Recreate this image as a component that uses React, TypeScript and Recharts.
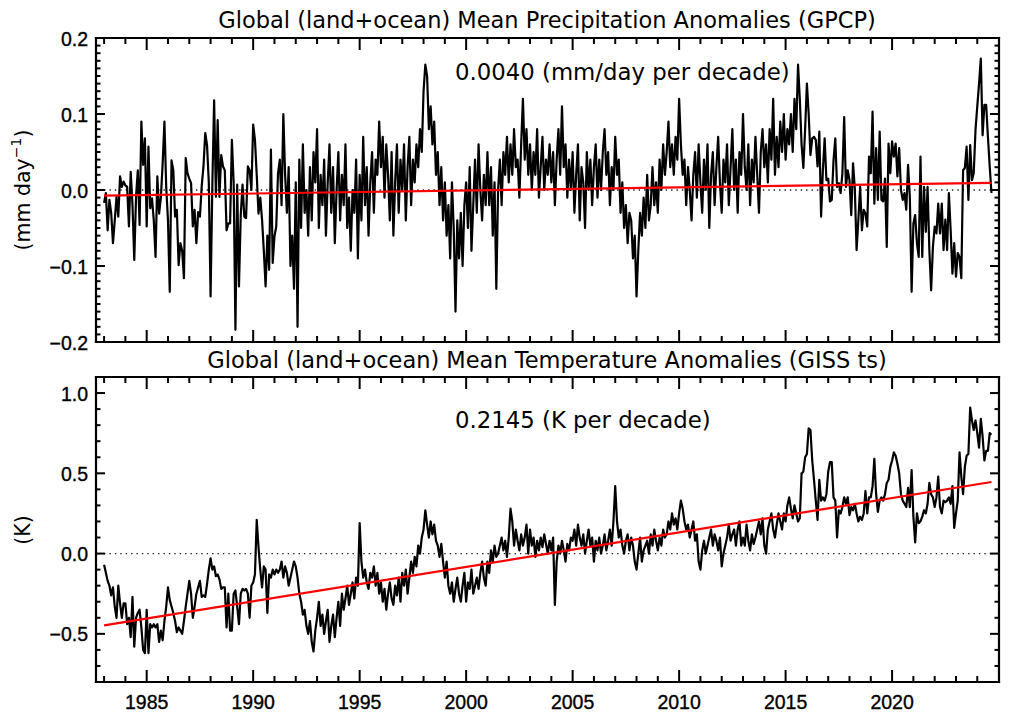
import React from 'react';
import { LineChart, Line, XAxis, YAxis } from 'recharts';

// ---------------- DATA ----------------
const START_YEAR = 1983; // first month: Jan 1983, monthly values

// Global mean precipitation anomalies (mm/day), GPCP, monthly
const precip: number[] = [
  -0.017, -0.004, -0.053, -0.013, -0.030, -0.070, -0.040, -0.009, -0.035, 0.018, 0.004, 0.011,
  0.006, 0.004, -0.048, 0.024, -0.020, -0.092, -0.009, 0.026, -0.046, 0.090, 0.033, 0.068,
  -0.048, 0.057, -0.024, -0.011, -0.040, -0.088, 0.018, -0.031, -0.010, 0.035, 0.090, 0.004,
  -0.040, -0.134, 0.039, 0.026, -0.035, -0.026, -0.099, -0.070, -0.080, -0.116, 0.042, 0.022,
  0.015, 0.009, -0.048, -0.026, -0.070, -0.029, -0.035, 0.005, 0.031, 0.075, 0.059, 0.010,
  -0.140, 0.007, 0.118, -0.009, 0.092, -0.009, 0.046, 0.031, 0.026, -0.053, -0.044, -0.044,
  0.066, 0.010, -0.184, 0.007, -0.127, -0.033, 0.007, -0.035, -0.037, 0.031, 0.026, 0.000,
  0.086, 0.066, 0.020, -0.031, -0.010, -0.039, -0.080, -0.127, -0.060, -0.105, 0.053, -0.096,
  -0.061, -0.048, 0.022, 0.040, -0.020, 0.100, 0.020, -0.030, 0.030, -0.100, -0.060, -0.130,
  0.010, -0.180, 0.040, -0.050, 0.060, -0.030, 0.000, -0.060, 0.030, -0.040, 0.050, 0.010,
  0.080, -0.050, 0.020, -0.020, 0.040, -0.060, 0.010, 0.060, -0.030, 0.030, -0.070, 0.000,
  0.050, -0.040, 0.020, -0.020, 0.060, -0.050, -0.010, -0.080, 0.000, -0.030, 0.040, -0.090,
  0.020, -0.040, 0.070, -0.020, 0.030, -0.060, 0.010, 0.050, -0.030, 0.040, 0.020, 0.090,
  0.030, 0.070, -0.010, 0.060, 0.020, -0.040, 0.050, -0.060, 0.010, 0.060, -0.030, 0.040,
  0.000, 0.060, -0.040, 0.030, 0.070, -0.020, 0.040, 0.010, 0.060, 0.030, 0.080, 0.050,
  0.130, 0.165, 0.150, 0.080, 0.110, 0.060, 0.090, 0.020, 0.050, -0.020, 0.030, -0.040,
  0.010, -0.060, -0.020, -0.090, 0.010, -0.050, -0.160, -0.040, -0.090, -0.030, -0.100, -0.020,
  0.010, -0.050, 0.030, -0.080, -0.020, 0.040, -0.030, 0.060, 0.000, -0.040, 0.020, -0.020,
  0.050, -0.020, 0.030, -0.060, 0.010, -0.130, 0.000, 0.040, -0.020, 0.050, 0.020, 0.070,
  0.010, 0.060, 0.020, 0.080, 0.030, 0.040, -0.010, 0.060, 0.120, 0.040, 0.080, 0.020,
  0.060, 0.000, 0.050, 0.020, 0.080, -0.010, 0.030, 0.070, 0.000, 0.040, 0.020, 0.060,
  0.010, 0.050, -0.020, 0.040, 0.080, 0.020, 0.110, 0.030, 0.060, -0.010, 0.040, 0.000,
  0.050, -0.030, 0.020, 0.060, -0.040, 0.030, 0.010, -0.050, 0.050, 0.000, 0.040, -0.020,
  0.030, 0.060, -0.010, 0.040, 0.000, 0.050, 0.080, 0.020, 0.050, -0.020, 0.030, 0.000,
  0.070, 0.020, 0.040, -0.030, 0.010, -0.050, -0.020, -0.070, -0.030, -0.040, -0.090, -0.060,
  -0.140, -0.080, -0.030, -0.060, -0.010, -0.050, 0.020, -0.040, -0.020, 0.030, -0.020, 0.010,
  -0.030, 0.040, 0.000, 0.060, 0.020, 0.050, 0.090, 0.030, 0.060, 0.020, 0.070, 0.040,
  0.120, 0.060, 0.020, 0.040, -0.020, 0.030, 0.000, -0.040, 0.020, 0.050, -0.010, 0.060,
  0.010, -0.030, 0.040, 0.000, 0.060, -0.050, 0.020, 0.050, -0.020, 0.030, 0.070, 0.010,
  -0.030, 0.040, 0.010, 0.060, -0.020, 0.030, 0.080, 0.000, 0.040, -0.030, 0.050, 0.020,
  0.100, 0.030, 0.000, 0.060, -0.020, 0.040, 0.010, 0.070, 0.020, -0.030, 0.050, 0.080,
  0.030, 0.060, 0.010, 0.080, 0.040, 0.120, 0.020, 0.070, 0.030, 0.090, 0.050, 0.100,
  0.040, 0.080, 0.060, 0.100, 0.050, 0.120, 0.080, 0.165, 0.120, 0.060, 0.029, 0.080,
  0.140, 0.100, 0.046, 0.068, 0.070, 0.066, 0.031, 0.077, -0.035, 0.026, 0.068, 0.013,
  0.015, -0.015, -0.013, 0.039, 0.068, 0.004, 0.009, -0.004, 0.022, 0.096, 0.004, 0.026,
  0.013, -0.033, 0.035, 0.002, -0.079, -0.039, 0.004, -0.053, -0.026, -0.031, -0.048, 0.044,
  0.022, 0.103, -0.018, 0.055, -0.013, 0.077, -0.013, -0.015, 0.015, -0.075, 0.061, 0.022,
  0.064, 0.044, 0.061, 0.018, 0.055, 0.000, -0.013, -0.004, -0.026, 0.033, -0.009, -0.134,
  -0.044, -0.033, -0.070, -0.088, 0.044, -0.088, 0.004, -0.055, 0.004, -0.079, -0.132, -0.075,
  -0.048, -0.057, -0.018, -0.057, -0.018, -0.079, -0.039, -0.079, -0.004, -0.053, -0.110, -0.070,
  -0.114, -0.083, -0.088, -0.116, 0.026, 0.029, 0.057, -0.013, 0.059, 0.013, 0.022, 0.079,
  0.110, 0.140, 0.173, 0.072, 0.112, 0.112, 0.070, 0.031, -0.004,
];

// Global mean temperature anomalies (K), GISS ts, monthly
const temp: number[] = [
  -0.07, -0.12, -0.17, -0.20, -0.26, -0.21, -0.33, -0.40, -0.20, -0.31, -0.40, -0.31,
  -0.31, -0.44, -0.40, -0.52, -0.27, -0.58, -0.40, -0.37, -0.35, -0.46, -0.60, -0.62,
  -0.35, -0.62, -0.44, -0.46, -0.44, -0.46, -0.44, -0.55, -0.48, -0.54, -0.42, -0.33,
  -0.21, -0.29, -0.33, -0.37, -0.42, -0.49, -0.46, -0.48, -0.50, -0.42, -0.33, -0.25,
  -0.17, -0.25, -0.40, -0.33, -0.25, -0.21, -0.17, -0.27, -0.26, -0.27, -0.19, -0.10,
  -0.03, -0.10, -0.08, -0.14, -0.13, -0.16, -0.22, -0.21, -0.21, -0.46, -0.25, -0.48,
  -0.48, -0.25, -0.23, -0.33, -0.44, -0.25, -0.22, -0.23, -0.22, -0.25, -0.40, -0.20,
  -0.18, -0.13, 0.21, 0.04, -0.10, -0.21, -0.08, -0.10, -0.37, -0.13, -0.15, -0.10,
  -0.13, -0.10, -0.12, -0.10, -0.05, -0.15, -0.08, -0.12, -0.20, -0.15, -0.10, -0.05,
  -0.08, -0.15, -0.25, -0.30, -0.38, -0.35, -0.45, -0.50, -0.42, -0.55, -0.61, -0.48,
  -0.40, -0.30, -0.45, -0.38, -0.50, -0.42, -0.35, -0.55, -0.45, -0.38, -0.52, -0.40,
  -0.30, -0.45, -0.25, -0.35, -0.28, -0.20, -0.32, -0.25, -0.18, -0.28, -0.15, -0.20,
  0.19, -0.05, -0.15, -0.10, -0.18, -0.22, -0.12, -0.15, -0.08, -0.20, -0.12, -0.25,
  -0.18, -0.30, -0.22, -0.35, -0.25, -0.18, -0.28, -0.32, -0.20, -0.26, -0.15, -0.30,
  -0.12, -0.20, -0.10, -0.25, -0.15, -0.05, -0.12, -0.02, -0.08, 0.05, 0.00, 0.10,
  0.15, 0.27, 0.18, 0.10, 0.20, 0.12, 0.18, 0.08, 0.05, -0.02, 0.06, -0.05,
  -0.15, -0.05, -0.20, -0.25, -0.18, -0.30, -0.22, -0.15, -0.25, -0.30, -0.20, -0.12,
  -0.30, -0.18, -0.22, -0.10, -0.25, -0.20, -0.15, -0.22, -0.12, -0.05, -0.15, -0.20,
  -0.05, -0.12, 0.02, -0.05, 0.05, -0.02, 0.00, 0.05, 0.10, 0.02, 0.08, -0.02,
  0.10, 0.28, 0.20, 0.05, 0.15, 0.08, 0.02, 0.12, 0.05, 0.10, 0.18, 0.00,
  0.15, 0.05, 0.10, -0.02, 0.08, 0.02, 0.10, 0.04, 0.12, 0.06, 0.00, 0.08,
  0.02, 0.10, -0.32, -0.05, 0.05, 0.00, 0.08, 0.02, -0.05, 0.06, 0.02, 0.10,
  0.08, 0.15, 0.05, 0.18, 0.10, 0.05, 0.12, 0.00, 0.08, 0.15, 0.05, 0.10,
  -0.05, 0.08, 0.02, 0.10, 0.00, 0.05, 0.12, 0.02, 0.08, 0.15, 0.05, 0.20,
  0.42, 0.20, 0.10, 0.15, 0.05, 0.00, 0.08, 0.12, 0.02, 0.10, 0.05, -0.05,
  -0.10, 0.00, 0.10, -0.05, 0.02, 0.05, 0.08, 0.00, 0.12, 0.05, 0.15, 0.08,
  0.02, 0.10, 0.05, 0.15, 0.10, 0.12, 0.20, 0.15, 0.25, 0.18, 0.22, 0.15,
  0.25, 0.33, 0.28, 0.20, 0.15, 0.18, 0.10, 0.15, 0.20, 0.08, 0.12, -0.05,
  -0.10, 0.02, 0.08, 0.00, 0.05, 0.10, 0.15, 0.05, 0.12, 0.08, 0.02, 0.10,
  -0.08, 0.00, 0.05, 0.10, 0.18, 0.08, 0.12, 0.15, 0.05, 0.15, 0.20, 0.05,
  0.10, 0.05, 0.18, 0.08, 0.02, 0.12, 0.06, 0.10, 0.15, 0.20, 0.12, 0.22,
  0.05, 0.00, 0.15, 0.20, 0.25, 0.15, 0.10, 0.18, 0.25, 0.20, 0.15, 0.25,
  0.20, 0.30, 0.35, 0.28, 0.22, 0.30, 0.25, 0.20, 0.22, 0.50, 0.51, 0.60,
  0.62, 0.78, 0.77, 0.58, 0.46, 0.33, 0.21, 0.46, 0.33, 0.35, 0.33, 0.37,
  0.51, 0.57, 0.57, 0.35, 0.33, 0.10, 0.27, 0.25, 0.29, 0.35, 0.31, 0.35,
  0.24, 0.29, 0.27, 0.31, 0.25, 0.20, 0.23, 0.21, 0.25, 0.39, 0.25, 0.35,
  0.35, 0.42, 0.59, 0.37, 0.26, 0.33, 0.35, 0.33, 0.37, 0.44, 0.46, 0.54,
  0.58, 0.63, 0.61, 0.56, 0.50, 0.37, 0.33, 0.31, 0.29, 0.41, 0.29, 0.52,
  0.23, 0.07, 0.25, 0.19, 0.20, 0.23, 0.27, 0.25, 0.31, 0.44, 0.37, 0.35,
  0.29, 0.35, 0.48, 0.29, 0.25, 0.33, 0.32, 0.33, 0.35, 0.31, 0.42, 0.16,
  0.25, 0.33, 0.63, 0.48, 0.37, 0.54, 0.61, 0.62, 0.91, 0.83, 0.77, 0.83,
  0.75, 0.66, 0.84, 0.73, 0.58, 0.64, 0.64, 0.75, 0.74,
];

// Linear trend end values (first / last month)
const precipTrend = [-0.0075, 0.0095];
const tempTrend = [-0.447, 0.446];

// Axis ticks and labels
const yearTicks = [
  1983, 1984, 1985, 1986, 1987, 1988, 1989, 1990, 1991, 1992, 1993, 1994, 1995, 1996,
  1997, 1998, 1999, 2000, 2001, 2002, 2003, 2004, 2005, 2006, 2007, 2008, 2009, 2010,
  2011, 2012, 2013, 2014, 2015, 2016, 2017, 2018, 2019, 2020, 2021, 2022, 2023, 2024,
];
const majorYears = [1985, 1990, 1995, 2000, 2005, 2010, 2015, 2020];

const precipMajorTicks = [-0.2, -0.1, 0.0, 0.1, 0.2];
const precipTickLabels = ['\u22120.2', '\u22120.1', '0.0', '0.1', '0.2'];
const tempMajorTicks = [-0.5, 0.0, 0.5, 1.0];
const tempTickLabels = ['\u22120.5', '0.0', '0.5', '1.0'];

const titleTop = 'Global (land+ocean) Mean Precipitation Anomalies (GPCP)';
const titleBottom = 'Global (land+ocean) Mean Temperature Anomalies (GISS ts)';
const noteTop = '0.0040 (mm/day per decade)';
const noteBottom = '0.2145 (K per decade)';

// --------------- LAYOUT / STYLE ---------------
const X_DOMAIN: [number, number] = [1982.62, 2025.02];
const PRECIP_DOMAIN: [number, number] = [-0.2, 0.2];
const TEMP_DOMAIN: [number, number] = [-0.8, 1.1];
const precipAllTicks = Array.from({ length: 41 }, (_, k) => (k - 20) / 100);
const tempAllTicks = Array.from({ length: 20 }, (_, k) => (k - 8) / 10);

const TICK_FONT = '"Liberation Sans", Arial, sans-serif';
const TEXT_FONT = '"DejaVu Sans", Verdana, sans-serif';
const TICK_SIZE = 19.5;
const axisLineStyle = { stroke: '#000', strokeWidth: 2.2, strokeLinecap: 'square' as const };

function buildRows(values: number[], trend: number[]) {
  const n = values.length;
  return values.map((v, i) => ({
    year: START_YEAR + i / 12,
    value: v,
    trend: i === 0 ? trend[0] : i === n - 1 ? trend[1] : null,
    zero: i === 0 || i === n - 1 ? 0 : null,
  }));
}

const precipRows = buildRows(precip, precipTrend);
const tempRows = buildRows(temp, tempTrend);

function makeXTick(dir: number, showLabels: boolean) {
  return (props: any) => {
    const { x, y, payload } = props;
    const v = payload.value;
    const major = majorYears.includes(v);
    const len = major ? 12 : 6;
    return (
      <g>
        <line x1={x} y1={y} x2={x} y2={y + dir * len} stroke="#000" strokeWidth={2} />
        {showLabels && major ? (
          <text
            x={x}
            y={y + 27}
            textAnchor="middle"
            fontFamily={TICK_FONT}
            fontSize={TICK_SIZE}
            fill="#000"
            stroke="#000"
            strokeWidth={0.35}
          >
            {String(v)}
          </text>
        ) : null}
      </g>
    );
  };
}

function makeYTick(dir: number, majors: number[], labels: string[] | null) {
  return (props: any) => {
    const { x, y, payload } = props;
    const v = payload.value as number;
    const idx = majors.findIndex((m) => Math.abs(m - v) < 1e-6);
    const major = idx >= 0;
    const len = major ? 9 : 4.5;
    return (
      <g>
        <line x1={x} y1={y} x2={x + dir * len} y2={y} stroke="#000" strokeWidth={2} />
        {labels && major ? (
          <text
            x={x - 8}
            y={y + 7.5}
            textAnchor="end"
            fontFamily={TICK_FONT}
            fontSize={TICK_SIZE}
            fill="#000"
            stroke="#000"
            strokeWidth={0.35}
          >
            {labels[idx]}
          </text>
        ) : null}
      </g>
    );
  };
}

type PanelProps = {
  rows: any[];
  height: number;
  topH: number;
  bottomH: number;
  yDomain: [number, number];
  yTicks: number[];
  yMajor: number[];
  yLabels: string[];
  showXLabels: boolean;
};

function Panel(p: PanelProps) {
  return (
    <LineChart width={1024} height={p.height} data={p.rows} margin={{ top: 0, right: 0, bottom: 0, left: 0 }}>
      <XAxis
        xAxisId="b"
        dataKey="year"
        type="number"
        orientation="bottom"
        domain={X_DOMAIN}
        allowDataOverflow
        ticks={yearTicks}
        interval={0}
        tickSize={0}
        tickMargin={0}
        height={p.bottomH}
        axisLine={axisLineStyle}
        tickLine={false}
        tick={makeXTick(-1, p.showXLabels)}
      />
      <XAxis
        xAxisId="t"
        dataKey="year"
        type="number"
        orientation="top"
        domain={X_DOMAIN}
        allowDataOverflow
        ticks={yearTicks}
        interval={0}
        tickSize={0}
        tickMargin={0}
        height={p.topH}
        axisLine={axisLineStyle}
        tickLine={false}
        tick={makeXTick(1, false)}
      />
      <YAxis
        yAxisId="l"
        type="number"
        orientation="left"
        domain={p.yDomain}
        allowDataOverflow
        ticks={p.yTicks}
        interval={0}
        tickSize={0}
        tickMargin={0}
        width={96}
        axisLine={axisLineStyle}
        tickLine={false}
        tick={makeYTick(1, p.yMajor, p.yLabels)}
      />
      <YAxis
        yAxisId="r"
        type="number"
        orientation="right"
        domain={p.yDomain}
        allowDataOverflow
        ticks={p.yTicks}
        interval={0}
        tickSize={0}
        tickMargin={0}
        width={25}
        axisLine={axisLineStyle}
        tickLine={false}
        tick={makeYTick(-1, p.yMajor, null)}
      />
      <Line
        xAxisId="t"
        yAxisId="r"
        dataKey="zero"
        connectNulls
        stroke="#222"
        strokeWidth={1.4}
        strokeDasharray="1.4 4"
        dot={false}
        activeDot={false}
        isAnimationActive={false}
      />
      <Line
        xAxisId="b"
        yAxisId="l"
        dataKey="value"
        stroke="#000"
        strokeWidth={2.2}
        strokeLinejoin="round"
        dot={false}
        activeDot={false}
        isAnimationActive={false}
      />
      <Line
        xAxisId="b"
        yAxisId="l"
        dataKey="trend"
        connectNulls
        stroke="#ff0000"
        strokeWidth={2.2}
        dot={false}
        activeDot={false}
        isAnimationActive={false}
      />
    </LineChart>
  );
}

export default function App() {
  return (
    <div style={{ position: 'absolute', left: 0, top: 0, width: 1024, height: 724, background: '#fff', overflow: 'hidden' }}>
      <div style={{ position: 'absolute', left: 0, top: 0 }}>
        <Panel
          rows={precipRows}
          height={360}
          topH={38}
          bottomH={18}
          yDomain={PRECIP_DOMAIN}
          yTicks={precipAllTicks}
          yMajor={precipMajorTicks}
          yLabels={precipTickLabels}
          showXLabels={false}
        />
      </div>
      <div style={{ position: 'absolute', left: 0, top: 360 }}>
        <Panel
          rows={tempRows}
          height={364}
          topH={17}
          bottomH={42}
          yDomain={TEMP_DOMAIN}
          yTicks={tempAllTicks}
          yMajor={tempMajorTicks}
          yLabels={tempTickLabels}
          showXLabels={true}
        />
      </div>
      <svg
        width={1024}
        height={724}
        style={{ position: 'absolute', left: 0, top: 0, pointerEvents: 'none' }}
      >
        <text x={547} y={28} textAnchor="middle" fontFamily={TEXT_FONT} fontSize={22.5} fill="#000">
          {titleTop}
        </text>
        <text x={547} y={368} textAnchor="middle" fontFamily={TEXT_FONT} fontSize={22.5} fill="#000">
          {titleBottom}
        </text>
        <text x={455} y={80} textAnchor="start" fontFamily={TEXT_FONT} fontSize={22.8} fill="#000">
          {noteTop}
        </text>
        <text x={455} y={428} textAnchor="start" fontFamily={TEXT_FONT} fontSize={22.8} fill="#000">
          {noteBottom}
        </text>
        <text
          x={23}
          y={190}
          transform="rotate(-90 23 190)"
          textAnchor="middle"
          dominantBaseline="central"
          fontFamily={TEXT_FONT}
          fontSize={20.5}
          fill="#000"
        >
          (mm day<tspan dy={-7} fontSize={14}>{'\u22121'}</tspan>
          <tspan dy={7}>)</tspan>
        </text>
        <text
          x={23}
          y={530}
          transform="rotate(-90 23 530)"
          textAnchor="middle"
          dominantBaseline="central"
          fontFamily={TEXT_FONT}
          fontSize={20.5}
          fill="#000"
        >
          (K)
        </text>
      </svg>
    </div>
  );
}
